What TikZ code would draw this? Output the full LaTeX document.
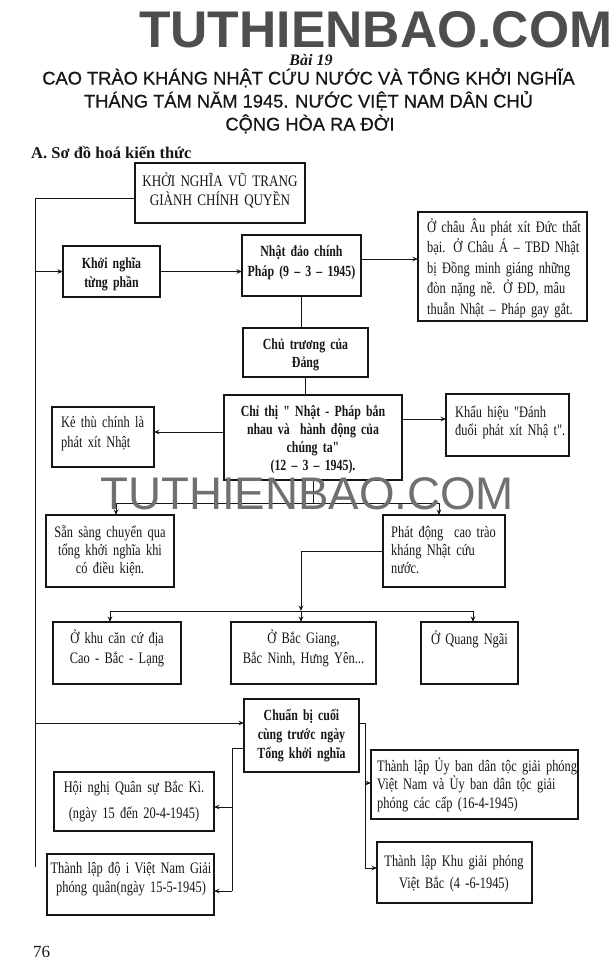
\documentclass[tikz,border=0pt]{standalone}
\usepackage{fontspec}
\usetikzlibrary{arrows.meta}
\newfontfamily\rgf{Liberation Serif}[FakeStretch=0.775]
\newfontfamily\ucf{Liberation Serif}[FakeStretch=0.82]
\newfontfamily\bdf{Liberation Serif}[FakeStretch=0.765]
\newfontfamily\plainserif{Liberation Serif}
\newfontfamily\sansf{Liberation Sans}
\newfontfamily\titlef{Liberation Sans}[FakeBold=0.6]
\newcommand\rgfont[1]{\rgf\fontsize{16}{#1}\selectfont\spaceskip=3.1pt plus 1pt minus 0.5pt\relax}
\newcommand\bdfont[1]{\bdf\bfseries\fontsize{15.5}{#1}\selectfont\spaceskip=3.3pt plus 1pt minus 0.5pt\relax}
\newcommand\ucfont{\ucf\fontsize{16}{19.5}\selectfont\spaceskip=3.8pt plus 1pt minus 0.5pt\relax}
\definecolor{wmdark}{RGB}{78,78,78}
\definecolor{wmmid}{RGB}{112,112,112}
\definecolor{ink}{RGB}{22,22,22}
\begin{document}
\begin{tikzpicture}[x=1pt,y=-1pt,
  bx/.style={draw=ink, line width=1.6pt, anchor=north west, inner sep=0pt, outer sep=0pt},
  ln/.style={draw=ink, line width=0.9pt},
  arr/.style={ln, -{Stealth[length=5.5pt,width=4.5pt]}},
  tc/.style={anchor=base, inner sep=0pt, text width=240pt, align=center, text=ink},
  tl/.style={anchor=base west, inner sep=0pt, text width=240pt, align=left, text=ink},
  rg/.style={font=\rgfont{#1}},
  bd/.style={font=\bdfont{#1}},
  plain/.style={inner sep=0pt, text=ink}
]
\useasboundingbox[fill=white] (0,0) rectangle (615,980);

% ---------- header ----------
\node[plain, anchor=base west, font=\sansf\bfseries\fontsize{51.6}{55}\selectfont, text=wmdark] (wm1) at (139,47) {TUTHIENBAO.COM};
\node[plain, anchor=base, font=\plainserif\bfseries\itshape\fontsize{16}{18}\selectfont] (bai) at (311,65.5) {Bài 19};
\node[plain, anchor=base, font=\titlef\fontsize{18.3}{22}\selectfont] (t1) at (308.5,84.5) {CAO TRÀO KHÁNG NHẬT CỨU NƯỚC VÀ TỔNG KHỞI NGHĨA};
\node[plain, anchor=base, font=\titlef\fontsize{18.3}{22}\selectfont] (t2) at (308.5,107.5) {THÁNG TÁM NĂM 1945. NƯỚC VIỆT NAM DÂN CHỦ};
\node[plain, anchor=base, font=\titlef\fontsize{18.3}{22}\selectfont] (t3) at (310,130.5) {CỘNG HÒA RA ĐỜI};
\node[plain, anchor=base west, font=\plainserif\bfseries\fontsize{16.5}{18}\selectfont] (sec) at (31,158) {A. Sơ đồ hoá kiến thức};
\node[plain, anchor=base west, font=\plainserif\fontsize{17}{19}\selectfont] (pg) at (33,957) {76};

% ---------- boxes ----------
\node[bx, line width=1.3pt, minimum width=170pt, minimum height=60pt] (knvt) at (135,163) {};
\node[bx, minimum width=97pt,  minimum height=51pt]  (kn)  at (63,246)  {};
\node[bx, minimum width=119pt, minimum height=61pt]  (nh)  at (242,235) {};
\node[bx, minimum width=169pt, minimum height=109pt] (ca)  at (418,212) {};
\node[bx, minimum width=125pt, minimum height=49pt]  (ct)  at (243,328) {};
\node[bx, minimum width=178pt, minimum height=85pt]  (chi) at (224,395) {};
\node[bx, minimum width=102pt, minimum height=60pt]  (kt)  at (52,407)  {};
\node[bx, minimum width=123pt, minimum height=62pt]  (kh)  at (446,394) {};
\node[bx, minimum width=128pt, minimum height=72pt]  (ss)  at (46,515)  {};
\node[bx, minimum width=122pt, minimum height=72pt]  (pd)  at (383,515) {};
\node[bx, minimum width=128pt, minimum height=62pt]  (kc)  at (53,622)  {};
\node[bx, minimum width=145pt, minimum height=62pt]  (bg)  at (231,622) {};
\node[bx, minimum width=97pt,  minimum height=62pt]  (qn)  at (421,622) {};
\node[bx, minimum width=115pt, minimum height=73pt]  (cb)  at (244,699) {};
\node[bx, minimum width=160pt, minimum height=59pt]  (hn)  at (54,772)  {};
\node[bx, minimum width=167pt, minimum height=61pt]  (dq)  at (47,854)  {};
\node[bx, minimum width=207pt, minimum height=69pt]  (ub)  at (371,750) {};
\node[bx, minimum width=155pt, minimum height=61pt]  (kgp) at (377,842) {};

% ---------- texts ----------
\node[tc, font=\ucfont] (knvt-t) at (220,186) {KHỞI NGHĨA VŨ TRANG\\GIÀNH CHÍNH QUYỀN};
\node[tc, bd=19] (kn-t) at (111.5,268) {Khởi nghĩa\\từng phần};
\node[tc, bd=20] (nh-t) at (301.5,256) {Nhật đảo chính\\Pháp (9 – 3 – 1945)};
\node[tl, rg=20.5] (ca-t) at (427,232) {Ở châu Âu phát xít Đức thất\\bại. Ở Châu Á – TBD Nhật\\bị Đồng minh giáng những\\đòn nặng nề. Ở ĐD, mâu\\thuẫn Nhật – Pháp gay gắt.};
\node[tc, bd=18.5] (ct-t) at (305.5,349) {Chủ trương của\\Đảng};
\node[tc, bd=18] (chi-t) at (313,416) {Chỉ thị " Nhật - Pháp bắn\\nhau và\ \ hành động của\\chúng ta"\\(12 – 3 – 1945).};
\node[tl, rg=20] (kt-t) at (61,427) {Kẻ thù chính là\\phát xít Nhật};
\node[tl, rg=18] (kh-t) at (455,417) {Khẩu hiệu "Đánh\\đuổi phát xít Nhậ t".};
\node[tc, rg=18] (ss-t) at (110,537) {Sẵn sàng chuyển qua\\tổng khởi nghĩa khi\\có điều kiện.};
\node[tl, rg=18] (pd-t) at (391,537) {Phát động\ \ cao trào\\kháng Nhật cứu\\nước.};
\node[tc, rg=20] (kc-t) at (117,643) {Ở khu căn cứ địa\\Cao - Bắc - Lạng};
\node[tc, rg=20] (bg-t) at (303.5,643) {Ở Bắc Giang,\\Bắc Ninh, Hưng Yên...};
\node[tc, rg=20] (qn-t) at (469.5,644) {Ở Quang Ngãi};
\node[tc, bd=19] (cb-t) at (301.5,720) {Chuẩn bị cuối\\cùng trước ngày\\Tổng khởi nghĩa};
\node[tc, rg=26] (hn-t) at (134,792) {Hội nghị Quân sự Bắc Kì.\\(ngày 15 đến 20-4-1945)};
\node[tc, rg=19] (dq-t) at (131,873) {Thành lập độ i Việt Nam Giải\\phóng quân(ngày 15-5-1945)};
\node[tl, rg=18.5] (ub-t) at (377,771) {Thành lập Ủy ban dân tộc giải phóng\\Việt Nam và Ủy ban dân tộc giải\\phóng các cấp (16-4-1945)};
\node[tc, rg=22.5] (kgp-t) at (454,866) {Thành lập Khu giải phóng\\Việt Bắc (4 -6-1945)};

% ---------- connector coordinates ----------
\coordinate (tr0) at (35,198);
\coordinate (tr1) at (35,867);
\coordinate (ya) at (0,259);
\coordinate (ykt) at (0,432);
\coordinate (ykh) at (0,419);
\coordinate (sp) at (313,503);
\coordinate (s1) at (116,503);
\coordinate (s2) at (439,503);
\coordinate (p1) at (301,551);
\coordinate (q1) at (110,611);
\coordinate (q2) at (301,611);
\coordinate (q3) at (473,611);
\coordinate (ycb) at (0,723);
\coordinate (l1) at (232,748);
\coordinate (l2) at (232,807);
\coordinate (l3) at (232,891);
\coordinate (r1) at (365,723);
\coordinate (r2) at (365,783);
\coordinate (r3) at (365,868);

% ---------- connectors ----------
\draw[ln] (knvt.west |- tr0) -- (tr0) -- (tr1);
\draw[arr] (tr0 |- kn.west) -- (kn.west);
\draw[arr] (kn.east) -- (kn.east -| nh.west);
\draw[arr] (nh.east |- ya) -- (ca.west |- ya);
\draw[ln] (nh.south) -- (nh.south |- ct.north);
\draw[ln] (ct.south) -- (ct.south |- chi.north);
\draw[arr] (chi.west |- ykt) -- (kt.east |- ykt);
\draw[arr] (chi.east |- ykh) -- (kh.west |- ykh);
\draw[ln] (chi.south) -- (chi.south |- sp);
\draw[ln] (s1) -- (s2);
\draw[arr] (s1) -- (s1 |- ss.north);
\draw[arr] (s2) -- (s2 |- pd.north);
\draw[arr] (pd.west |- p1) -- (p1) -- (q2);
\draw[ln] (q1) -- (q3);
\draw[arr] (q1) -- (q1 |- kc.north);
\draw[arr] (q2) -- (q2 |- bg.north);
\draw[arr] (q3) -- (q3 |- qn.north);
\draw[arr] (tr0 |- ycb) -- (cb.west |- ycb);
\draw[ln] (cb.west |- l1) -- (l1) -- (l3);
\draw[arr] (l2) -- (l2 -| hn.east);
\draw[arr] (l3) -- (l3 -| dq.east);
\draw[ln] (cb.east |- r1) -- (r1) -- (r3);
\draw[arr] (r2) -- (r2 -| ub.west);
\draw[arr] (r3) -- (r3 -| kgp.west);

% ---------- middle watermark ----------
\node[plain, anchor=base west, font=\sansf\fontsize{45.7}{50}\selectfont, text=wmmid] (wm2) at (100,509) {TUTHIENBAO.COM};
\end{tikzpicture}
\end{document}
